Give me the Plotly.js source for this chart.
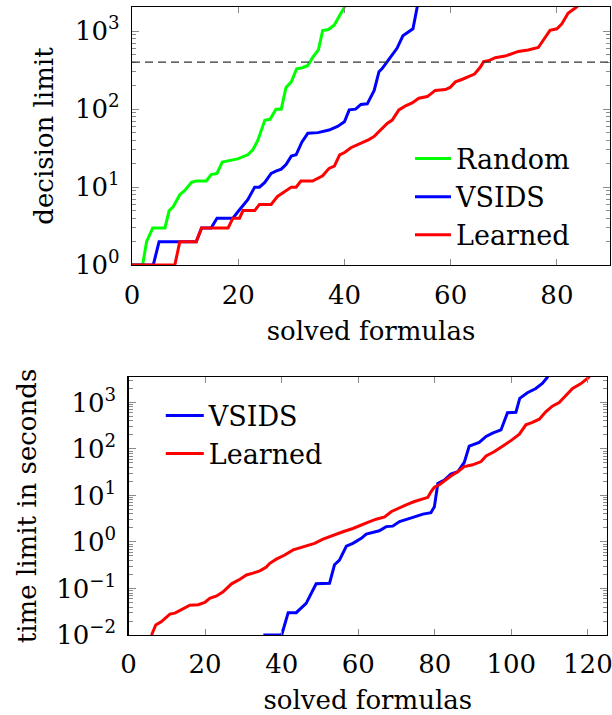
<!DOCTYPE html>
<html>
<head>
<meta charset="utf-8">
<script src="https://cdn.plot.ly/plotly-3.0.1.min.js"></script>
<style>html,body{margin:0;padding:0;background:#fff;}</style>
</head>
<body>
<div id="chart" style="width:612px;height:715px;"></div>
<script>
// ---- Top chart: decision limit vs solved formulas ----
const randomX = [0,2,2.75,3.9,6.2,7,7.75,9,9.9,11.2,12.1,14,14.9,16,17,18.4,19.9,21.8,22.75,23.7,25,26,27.1,28.1,29,30,31,32.1,33.1,33.9,35.1,35.9,37,38.1,40,41];
const randomY = [1,1,2,3,3,5,5.6,8,9,11.5,12,12,14.5,15,21,22,23,26,30,40,72,74,100,100,190,224,330,340,363,447,575,1020,1050,1200,2040,3160];

const vsidsTopX = [0,4,5.1,12.1,13.1,14.9,16,19,19.9,20.9,21.8,23.1,24,25,26.2,27.1,28.1,29,30,30.9,32,33.1,35,37.1,38.7,40,40.9,42.1,43.1,44.3,45.2,45.6,46.5,47.1,48.4,49.9,51,52,52.9,53.7,54.5];
const vsidsTopY = [1,1,2,2,3,3,4,4,4.8,5.9,6.9,10,10,11.5,15,16,17,19.5,25,26,38,49,50,54,60,69,98,100,115,117,151,174,302,331,437,603,871,977,1072,2040,3980];

const learnedTopX = [0,8.06,9,12.1,13.1,18.1,19,20.25,20.9,23.1,24,26.2,27.4,28.7,30,30.9,31.8,34,35.9,37.1,38.1,39.1,40.1,41.2,42.75,43.7,44.6,45.6,46.8,48.1,49,50.25,51.5,52.75,54,55.6,57.1,59,59.9,60.9,62.1,63.4,64.5,65.6,66.2,67.1,68.4,70.25,71.5,72.75,74.6,76.5,77.4,78.7,80,80.9,82.1,83.7,84.6,86];
const learnedTopY = [1,1,2,2,3,3,4,4,5,5,6,6,7.6,8.7,10,10,12,12,14,17.4,18.6,26,28,32,35.5,38,40.7,44.7,53.7,66,72.4,98,110,120,138,145,174,178,190,224,240,263,282,347,407,417,457,479,513,550,575,617,759,1023,1072,1230,1700,2040,2340,3160];

const decisionThreshold = 400;

// ---- Bottom chart: time limit vs solved formulas ----
const vsidsBotX = [35.2,40,41.7,43.8,46.4,49,52.5,53.8,55.1,56.9,58.6,60.8,62.1,65.5,67.3,69,70.8,72.5,74.7,76.9,79,79.9,80.8,82.5,84.2,86,87.7,89,91.6,93.4,95.1,97.3,99,101.2,102.2,104.2,106.4,108.1,109.4,111];
const vsidsBotY = [0.01,0.01,0.0302,0.0302,0.0479,0.126,0.129,0.324,0.407,0.813,0.933,1.20,1.48,1.74,2.14,2.19,2.75,3.09,3.47,3.98,4.27,5.75,18.2,21.4,28.8,32.4,51.3,115,138,186,219,257,603,617,1230,1620,2000,2570,3470,6310];

const learnedBotX = [6,7.1,8.6,10.8,12.1,13.8,16,18.2,19.9,21.2,23,24.7,26.9,29.1,30.8,32.5,34.3,36,36.9,38.6,40.8,43,46.4,48.6,50.8,53.4,56,58.6,60.3,62.5,64.7,66.9,68.6,70.3,72.5,74.7,76.9,78.2,79,79.9,81.2,82.5,84.2,86,87.7,89.9,92.1,93.4,95.5,97.7,99.9,102.1,103.8,105.5,107.3,109,110.7,112.5,114.2,116,118.1,119.9,122];
const learnedBotY = [0.01,0.0164,0.0195,0.0282,0.0295,0.0355,0.0437,0.0447,0.0501,0.0617,0.0692,0.0851,0.126,0.158,0.195,0.214,0.240,0.288,0.347,0.427,0.525,0.676,0.813,0.933,1.15,1.41,1.66,1.95,2.19,2.63,3.09,3.47,4.47,5.25,6.31,7.41,8.32,9.12,12.0,15.1,17.0,20.9,26.3,32.4,41.7,45.7,53.7,70.8,87.1,115,151,209,331,372,437,631,832,1000,1380,2000,2510,3310,5010];

// ---- Tick labels ----
const xTopTicks = [0,20,40,60,80];
const yTopTicks = [1,10,100,1000];
const yTopLabels = ['10<sup>0</sup>','10<sup>1</sup>','10<sup>2</sup>','10<sup>3</sup>'];
const xBotTicks = [0,20,40,60,80,100,120];
const yBotTicks = [0.01,0.1,1,10,100,1000];
const yBotLabels = ['10<sup>−2</sup>','10<sup>−1</sup>','10<sup>0</sup>','10<sup>1</sup>','10<sup>2</sup>','10<sup>3</sup>'];

function minorLog(lo, hi){
  const v=[];
  for(let e=lo;e<=hi;e++){for(let m=2;m<=9;m++){v.push(m*Math.pow(10,e));}}
  return v;
}

const GREEN='#00ff00', BLUE='#0000ff', RED='#ff0000';
const LW=3;

const traces = [
  {x:randomX,y:randomY,name:'Random',mode:'lines',line:{color:GREEN,width:LW},xaxis:'x',yaxis:'y',legend:'legend'},
  {x:vsidsTopX,y:vsidsTopY,name:'VSIDS',mode:'lines',line:{color:BLUE,width:LW},xaxis:'x',yaxis:'y',legend:'legend'},
  {x:learnedTopX,y:learnedTopY,name:'Learned',mode:'lines',line:{color:RED,width:LW},xaxis:'x',yaxis:'y',legend:'legend'},
  {x:vsidsBotX,y:vsidsBotY,name:'VSIDS',mode:'lines',line:{color:BLUE,width:LW},xaxis:'x2',yaxis:'y2',legend:'legend2'},
  {x:learnedBotX,y:learnedBotY,name:'Learned',mode:'lines',line:{color:RED,width:LW},xaxis:'x2',yaxis:'y2',legend:'legend2'}
];

const FONT = 'DejaVu Serif';
const FS = 26;
const TICKC = '#8a8a8a';
const TXT = {family:FONT,size:FS,color:'#000000'};
const LEGTXT = {family:FONT,size:27,color:'#000000'};

function xAxis(domain, range, ticks, anchor){
  return {domain:domain, range:range, anchor:anchor, tickvals:ticks,
    showline:true, mirror:'ticks', linecolor:'#000', linewidth:1.2,
    ticks:'inside', ticklen:6, tickwidth:1, tickcolor:TICKC,
    showgrid:false, zeroline:false, ticklabelstandoff:6, ticklabeloverflow:'allow',
    tickfont:TXT,
    title:{text:'solved formulas', font:TXT, standoff:13}};
}
function yAxis(domain, range, ticks, labels, anchor, title, minor, standoff){
  return {domain:domain, type:'log', range:range, anchor:anchor,
    tickmode:'array', tickvals:ticks, ticktext:labels,
    showline:true, mirror:'ticks', linecolor:'#000', linewidth:1.2,
    ticks:'inside', ticklen:7, tickwidth:1, tickcolor:TICKC,
    minor:{tickmode:'array', tickvals:minor, ticks:'inside', ticklen:4, tickwidth:1, tickcolor:TICKC, showgrid:false},
    showgrid:false, zeroline:false, ticklabelstandoff:6,
    tickfont:TXT,
    title:{text:title, font:TXT, standoff:standoff}};
}

const layout = {
  width:612, height:715,
  margin:{l:128,r:2,t:7,b:80},
  paper_bgcolor:'#fff', plot_bgcolor:'#fff',
  font:TXT,
  showlegend:true,
  xaxis: xAxis([0.0083,1],[0,90],xTopTicks,'y'),
  yaxis: yAxis([0.589,1],[0,3.31],yTopTicks,yTopLabels,'x','decision limit',minorLog(0,3),13),
  xaxis2: xAxis([0.0012,0.9938],[0,125],xBotTicks,'y2'),
  yaxis2: yAxis([0,0.411],[-2,3.55],yBotTicks,yBotLabels,'x2','time limit in seconds',minorLog(-2,3),12),
  legend:{x:0.585,y:0.797,xanchor:'left',yanchor:'top',bgcolor:'rgba(0,0,0,0)',font:LEGTXT,tracegroupgap:0,itemwidth:36},
  legend2:{x:0.068,y:0.388,xanchor:'left',yanchor:'top',bgcolor:'rgba(0,0,0,0)',font:LEGTXT,tracegroupgap:0,itemwidth:38},
  shapes:[{type:'line',xref:'x domain',x0:0,x1:1,yref:'y',y0:decisionThreshold,y1:decisionThreshold,
    line:{color:'#333',width:1.2,dash:'8px,5px'}}]
};

Plotly.newPlot('chart', traces, layout, {displayModeBar:false, staticPlot:true});
</script>
</body>
</html>
